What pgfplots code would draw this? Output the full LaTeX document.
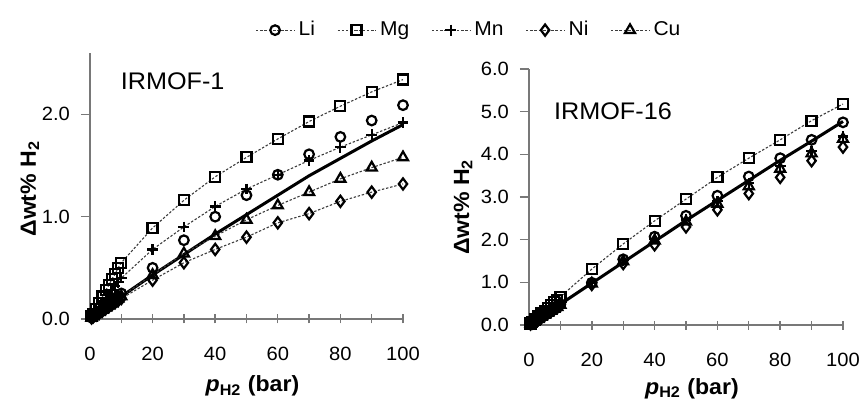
\documentclass[border=0pt]{standalone}
\usepackage{fontspec}
\setmainfont{Liberation Sans}[FakeStretch=1.05]
\usepackage{pgfplots}
\usepackage{pgfplotstable}
\pgfplotsset{compat=1.18}

% IRMOF-1 (left)
\pgfplotstableread{
p    Li     Mg    Mn    Ni    Cu
0.5  0.013  0.03  0.02  0.01  0.011
1    0.025  0.05  0.04  0.02  0.022
2    0.05   0.10  0.08  0.04  0.044
3    0.075  0.16  0.12  0.06  0.066
4    0.10   0.22  0.16  0.08  0.088
5    0.125  0.28  0.20  0.10  0.11
6    0.15   0.33  0.24  0.12  0.13
7    0.175  0.39  0.28  0.14  0.15
8    0.20   0.44  0.32  0.16  0.18
9    0.225  0.50  0.36  0.18  0.20
10   0.25   0.55  0.40  0.20  0.22
20   0.50   0.89  0.68  0.38  0.43
30   0.77   1.16  0.90  0.55  0.64
40   1.00   1.39  1.10  0.68  0.81
50   1.21   1.58  1.27  0.80  0.97
60   1.41   1.76  1.41  0.94  1.11
70   1.61   1.93  1.55  1.03  1.24
80   1.78   2.08  1.68  1.15  1.37
90   1.94   2.22  1.80  1.24  1.48
100  2.09   2.34  1.92  1.32  1.58
}\irmofone
\pgfplotstableread{
p    fit
0    0
10   0.22
20   0.43
30   0.63
40   0.83
50   1.02
60   1.21
70   1.40
80   1.57
90   1.74
100  1.90
}\fitone

% IRMOF-16 (right)
\pgfplotstableread{
p    Li     Mg     Mn     Ni     Cu
0.5  0.025  0.035  0.024  0.023  0.024
1    0.05   0.07   0.048  0.046  0.047
2    0.10   0.13   0.10   0.09   0.095
3    0.15   0.20   0.145  0.14  0.14
4    0.20   0.27   0.19   0.18   0.19
5    0.25   0.33   0.24   0.23   0.24
6    0.29   0.40   0.29   0.28   0.285
7    0.34   0.46   0.34   0.32   0.33
8    0.39   0.53   0.38   0.37   0.38
9    0.44   0.59   0.43   0.41   0.42
10   0.49   0.66   0.48   0.46   0.47
20   0.99   1.31   0.98   0.95   0.97
30   1.54   1.90   1.52   1.44   1.49
40   2.07   2.44   2.02   1.88   1.98
50   2.56   2.95   2.47   2.30   2.42
60   3.03   3.46   2.90   2.70   2.84
70   3.48   3.91   3.33   3.08   3.25
80   3.91   4.34   3.73   3.46   3.66
90   4.34   4.79   4.08   3.85   4.02
100  4.75   5.18   4.42   4.17   4.36
}\irmofsixteen
\pgfplotstableread{
p    fit
0    0
10   0.49
20   0.98
30   1.47
40   1.96
50   2.45
60   2.92
70   3.39
80   3.86
90   4.31
100  4.77
}\fitsixteen

\definecolor{axgray}{RGB}{120,120,120}
\definecolor{dotgray}{RGB}{60,60,60}

\pgfplotsset{
  panel/.style={
    scale only axis,
    axis lines*=left,
    axis line style={draw=axgray, line width=0.7pt},
    every tick/.style={draw=axgray, line width=0.7pt},
    xtick align=center,
    ytick align=outside,
    major tick length=4.5pt,
    minor tick length=4.5pt,
    xmin=0, xmax=100,
    xtick={0,20,...,100},
    minor xtick={10,30,...,90},
    ymin=0,
    enlargelimits=false,
    clip=false,
    ticklabel style={font=\fontsize{9.6}{12}\selectfont},
    yticklabel style={/pgf/number format/fixed, /pgf/number format/fixed zerofill,
      /pgf/number format/precision=1},
    /pgf/number format/assume math mode=true,
    label style={font=\bfseries\fontsize{11}{13}\selectfont},
    xlabel={\textit{p}\textsubscript{H2} (bar)},
    ylabel={Δwt\% H\textsubscript{2}},
    ylabel style={anchor=center},
    xlabel style={anchor=center},
    xticklabel style={yshift=-8.5pt},
    yticklabel style={xshift=-2pt},
  },
  dotline/.style={dotgray, line width=0.55pt, dash pattern=on 1.2pt off 0.9pt,
    mark options={solid, black, line width=1.1pt, fill=none}},
  onlymk/.style={only marks, mark options={solid, black, line width=1.1pt, fill=none}},
  mLi/.style={mark=o, mark size=2.4pt},
  mMg/.style={mark=square, mark size=2.5pt},
  mMn/.style={mark=+, mark size=2.7pt},
  mNi/.style={mark=diamond, mark size=2.8pt},
  mCu/.style={mark=triangle, mark size=2.9pt},
}

\begin{document}
\begin{tikzpicture}
\path[use as bounding box] (0pt,0pt) rectangle (429.5pt,-200.5pt);

\begin{axis}[panel,
  at={(45pt,-159.5pt)}, anchor=origin,
  width=156.5pt, height=133pt,
  ymax=2.6, ytick={0,1,2},
  xlabel style={at={(axis description cs:0.519,-0.252)}},
  ylabel style={at={(axis description cs:-0.192,0.49)}},
  legend columns=5,
  legend style={draw=none, fill=none, at={(axis description cs:1.214,1.086)}, anchor=center,
    font=\fontsize{10}{12}\selectfont,
    /tikz/every even column/.append style={column sep=9pt}},
  legend image code/.code={\draw[mark repeat=2, mark phase=2, #1]
    plot coordinates {(0pt,0pt) (9.5pt,0pt) (19pt,0pt)};},
]
\addlegendimage{dotline, mLi}
\addlegendimage{dotline, mMg}
\addlegendimage{dotline, mMn}
\addlegendimage{dotline, mNi}
\addlegendimage{dotline, mCu}
\addlegendentry{Li}
\addlegendentry{Mg}
\addlegendentry{Mn}
\addlegendentry{Ni}
\addlegendentry{Cu}
\addplot[black, line width=1.5pt, forget plot] table[x=p, y=fit] {\fitone};
\addplot[dotline, mNi, forget plot] table[x=p, y=Ni] {\irmofone};
\addplot[dotline, mCu, forget plot] table[x=p, y=Cu] {\irmofone};
\addplot[dotline, mMn, forget plot] table[x=p, y=Mn] {\irmofone};
\addplot[dotline, mMg, forget plot] table[x=p, y=Mg] {\irmofone};
\addplot[onlymk, mLi, forget plot] table[x=p, y=Li] {\irmofone};
\node[font=\fontsize{12}{14}\selectfont, anchor=center] at (axis cs:26.4,2.32) {IRMOF-1};
\end{axis}

\begin{axis}[panel,
  at={(264.5pt,-162.5pt)}, anchor=origin,
  width=157pt, height=128pt,
  ymax=6, ytick={0,1,...,6},
  xlabel style={at={(axis description cs:0.519,-0.25)}},
  ylabel style={at={(axis description cs:-0.210,0.461)}},
]
\addplot[black, line width=1.5pt] table[x=p, y=fit] {\fitsixteen};
\addplot[dotline, mMg] table[x=p, y=Mg] {\irmofsixteen};
\addplot[onlymk, mNi] table[x=p, y=Ni] {\irmofsixteen};
\addplot[onlymk, mCu] table[x=p, y=Cu] {\irmofsixteen};
\addplot[onlymk, mMn] table[x=p, y=Mn] {\irmofsixteen};
\addplot[onlymk, mLi] table[x=p, y=Li] {\irmofsixteen};
\node[font=\fontsize{12}{14}\selectfont, anchor=center] at (axis cs:26.75,5.0) {IRMOF-16};
\end{axis}
\end{tikzpicture}
\end{document}
